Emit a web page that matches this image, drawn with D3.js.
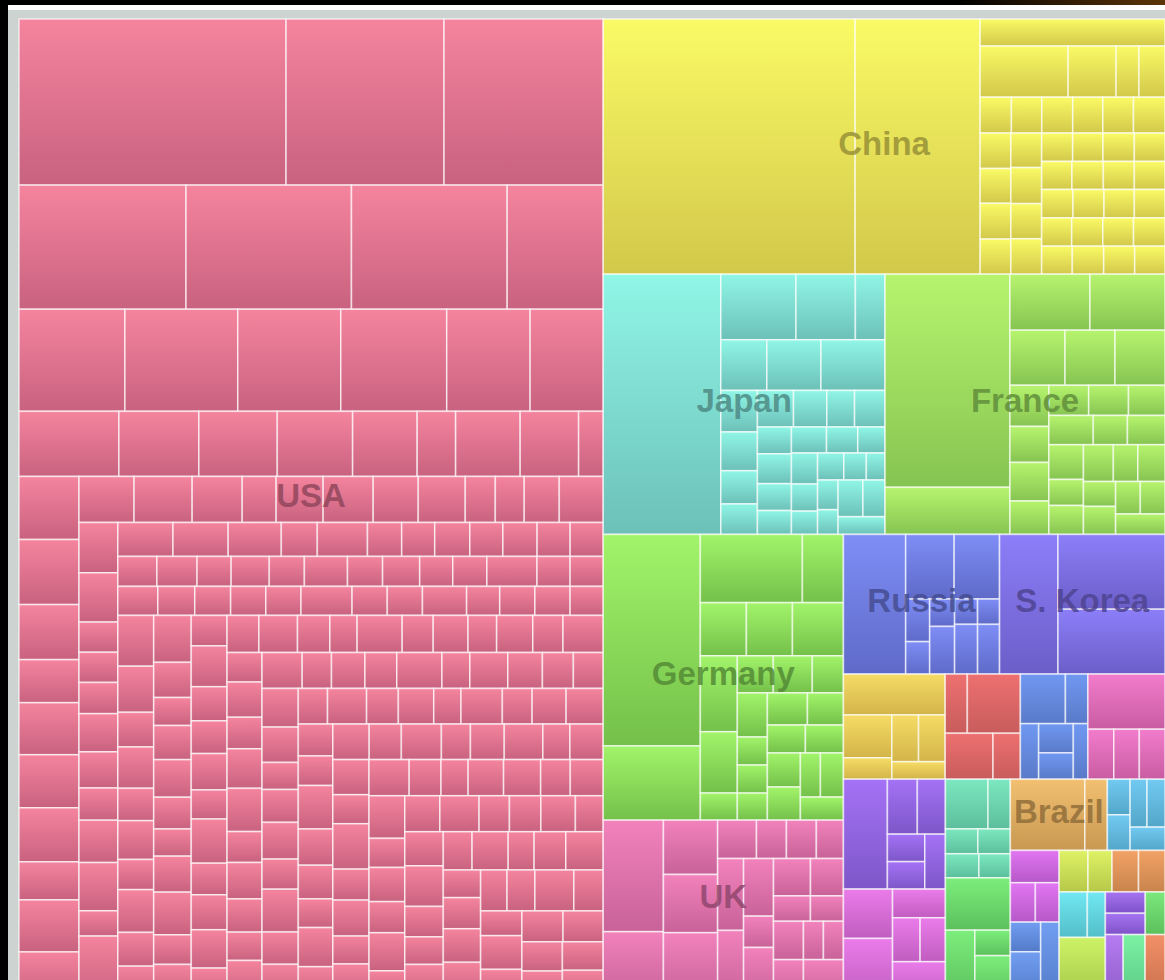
<!DOCTYPE html>
<html>
<head>
<meta charset="utf-8">
<script src="https://cdn.jsdelivr.net/npm/d3@7"></script>
<style>
  body { margin: 0; background: #000; overflow: hidden; }
  svg { display: block; }
  .country-label { font-family: "Liberation Sans", Arial, sans-serif; font-weight: bold; font-size: 33px; }
</style>
</head>
<body>
<svg id="chart" width="1165" height="980"></svg>
<script>
// country names (only the ones with a visible label are named)
var countries = ["USA", "China", "Japan", "France", "Germany", "UK", "Russia", "S. Korea",
  "", "", "", "", "", "", "", "", "Brazil", "", "", "", "", "", "", "", "", "", "", "", ""];

// country sizes, read as area in the picture (px^2 / 100)
var countryTotals = [5717, 1433, 733, 728, 686, 427, 218, 231,
  107, 79, 71, 81, 112, 111, 64, 78, 69, 41, 35, 37, 22, 22, 21, 28, 17, 8.4, 11.3, 13.9, 12.6];

// how the top level is cut into strips: [number of countries, direction]
var topStrips = [[1, "col"], [1, "row"], [2, "row"], [2, "col"], [2, "row"], [4, "row"], [2, "col"],
  [2, "col"], [2, "row"], [2, "col"], [2, "row"], [2, "col"], [2, "row"], [3, "row"]];

// cell gradient colours, top and bottom
var topColors = ["#f5849e", "#fafa66", "#90f6e6", "#b6f46e", "#a2f46a", "#f282bc", "#7e8ef6", "#8c7ef8",
  "#f6dc66", "#ee7070", "#7098f2", "#f27ccc", "#a472f6", "#ea7cea", "#7ce8c0", "#7cee7c", "#f2c070",
  "#72caf2", "#e276f2", "#729ef2", "#def266", "#f2a266", "#72e8f2", "#cef266", "#a674f2", "#7ce87c",
  "#b67cf2", "#7cf2a4", "#f29068"];
var bottomColors = ["#c8627f", "#d2c84a", "#6cc0b8", "#86c452", "#74c04a", "#c86298", "#5f6ac8", "#6c5ec8",
  "#d2b448", "#c85c5c", "#5a7ac8", "#c85ca2", "#7e56c8", "#c05cc0", "#5cbe9c", "#5cc05c", "#c89852",
  "#52a6c8", "#b658c8", "#527ac8", "#b6c848", "#c8844c", "#52bec8", "#a4c848", "#7e52c8", "#5cc05c",
  "#8e5cc8", "#5cc884", "#c8704c"];

// cells of each country (px^2 / 100), in the order they are laid out
var usaCells = [443, 262, 264, 207, 205, 193, 119,
  108, 115, 105, 108, 85, 74.5,
  65, 52, 51, 49, 42, 25, 42, 38, 16,
  37.8, 39, 33, 25.8, 31.2, 31.8, 32.4, 22.8, 31.2, 27.6,
  25.3, 26.7, 23, 15.6, 21.6, 23, 20.7, 21.6, 13.8, 13.3, 16.1, 20.2,
  19.5, 19.1, 11.7, 11.7, 12.1, 14.8, 14, 12.5, 16.4, 18.7, 9.8, 24,
  18.7, 18.7, 18, 12.2, 17, 11.6, 11.2, 11.9, 11.2, 11.6, 11.2, 11.2,
  11.7, 12, 10.2, 11.4, 10.5, 12.9, 10.5, 11.1, 9.9, 10.2, 15, 9.9, 9.9,
  11.6, 10.7, 10.4, 10.2, 10.2, 14.8, 10.2, 10.2, 12.8, 9.6, 10.2, 10.2, 9.6,
  18.2, 16.5, 12.4, 14.8, 11.6, 13.9, 10.8, 15.3, 12.1, 11.4,
  17.6, 13.2, 10.5, 12.8, 14.1, 11.9, 10.2, 13.5, 16.0, 11.1,
  12.6, 10.9, 14.6, 12.2, 11.7, 13.0, 10.4, 15.8, 11.3, 12.5,
  13.7, 10.7, 11.8, 14.3, 12.0, 10.1, 16.7, 11.5, 12.9, 10.6,
  13.4, 11.2, 14.9, 10.3, 12.3, 11.0, 13.8, 15.1, 10.8, 12.7,
  11.6, 9.9, 13.1, 14.4, 10.5, 12.0, 11.4, 16.2, 10.0, 13.6,
  12.4, 11.1, 10.7, 14.0, 12.8, 9.8, 11.9, 13.3, 10.9, 15.5,
  11.7, 12.2, 10.4, 13.9, 11.3, 12.6, 9.7, 14.7, 10.6, 12.1,
  13.2, 11.0, 10.2, 15.0, 12.5, 11.6, 9.9, 13.5, 10.8, 12.9,
  11.4, 14.2, 10.3, 12.0, 13.7, 9.6, 11.8, 12.7, 10.5, 16.4,
  11.2, 13.0, 10.1, 12.3, 14.5, 11.5, 9.8, 12.8, 13.4, 10.7,
  11.9, 15.2, 10.4, 12.2, 11.1, 13.6, 9.7, 12.6, 14.1, 10.9,
  11.3, 12.4, 10.0, 13.1, 15.6, 11.7, 10.6, 12.9, 11.0, 13.8,
  9.9, 12.1, 14.3, 10.3, 11.6, 12.5, 13.3, 10.8, 11.4, 15.9,
  12.0, 10.2, 13.9, 11.8, 12.7, 12.4, 11.8, 10.9, 11.6, 11.3];
var chinaCells = [643, 319, 50, 45, 24.5, 11.7, 13.3,
  11.2, 10.9, 11.1, 10.8, 11.0, 11.3,
  10.9, 10.7, 11.0, 10.8, 10.6, 11.1, 10.8, 10.9,
  8.8, 8.6, 8.9, 8.7, 8.5, 8.8, 8.7, 8.6, 8.9, 8.8, 8.6, 8.7, 8.5, 8.8, 8.7, 8.9, 8.6, 8.8, 8.7, 8.5];
var japanCells = [301.6, 48.6, 38.4, 19.2, 23, 27, 32, 15, 14, 12, 11, 13, 12, 10, 11, 9, 10, 9, 8, 9,
  8, 7, 8, 7, 6, 7, 6, 5, 6, 5, 9, 8, 8.2];
var franceCells = [266, 58.8, 44.8, 42, 30.3, 27.5, 27.5, 16, 14, 15, 13, 12, 12, 11, 13, 10, 11, 12,
  9, 10, 11, 9, 10, 8, 9, 8, 8, 10.1];
var germanyCells = [204.7, 71.8, 69.4, 27.9, 24.4, 24.4, 27, 28, 22.6, 10, 13.3, 14.4, 11.5,
  13.2, 8.4, 8.4, 8.1, 12.8, 11.5, 10.6, 10.6, 11.2, 10.9, 8.8, 10.1, 9.9];
var ukCells = [66.6, 39.6, 29.2, 31.3, 35.1, 14.8, 11.4, 11.4, 10.3, 18.5, 17.4, 17.1, 9.3, 15,
  13.7, 12.2, 9.3, 8.3, 11.4, 11.4, 7.6, 7.6, 15.2];
var russiaCells = [86, 31, 29, 10.1, 7.7, 6.75, 11.75, 5.75, 11.3, 5.5, 10.8];
var koreaCells = [80.6, 79, 68.5];
var smallCells = [
  [40, 20, 10, 12, 12, 9],
  [12.5, 30, 21, 12],
  [22, 11, 10, 10, 9, 8],
  [42, 12.8, 12.6, 12.7],
  [47, 16, 15, 10, 10, 11],
  [24, 29, 15, 12, 11, 19],
  [21, 11, 8, 8, 8, 7.5],
  [34, 20, 9, 15],
  [53, 16],
  [8, 8, 8, 8.5, 8],
  [16, 10, 9.5],
  [9, 14, 14],
  [12, 10],
  [11, 11],
  [12.5, 8],
  [28],
  [8.5, 8.5],
  [8.4],
  [11.3],
  [13.9],
  [12.6]
];
var cells = [usaCells, chinaCells, japanCells, franceCells, germanyCells, ukCells, russiaCells, koreaCells]
  .concat(smallCells);

// first strips inside each country as seen in the picture; the rest is squarified
var usaStrips = [[3, "row"], [4, "row"], [6, "row"], [9, "row"], [10, "col"], [12, "row"], [12, "col"],
  [12, "row"], [13, "row"], [13, "row"]];
var chinaStrips = [[1, "col"], [1, "col"], [1, "row"], [4, "row"], [6, "row"], [4, "col"], [4, "col"],
  [4, "row"], [4, "row"], [4, "row"], [4, "row"], [4, "row"]];
var japanStrips = [[1, "col"], [3, "row"], [3, "row"]];
var franceStrips = [[2, "col"], [2, "row"], [3, "row"]];
var germanyStrips = [[2, "col"], [2, "row"], [3, "row"], [3, "col"], [3, "row"], [4, "col"], [2, "row"],
  [2, "row"], [2, "col"], [2, "row"], [1, "row"]];
var ukStrips = [[2, "col"], [3, "col"], [4, "row"], [2, "col"], [3, "col"], [2, "row"], [2, "row"],
  [2, "col"], [2, "row"], [1, "row"]];
var russiaStrips = [[1, "col"], [2, "row"], [2, "col"], [2, "col"], [2, "col"], [2, "col"]];
var koreaStrips = [[1, "col"], [1, "row"], [1, "row"]];
var smallStrips = [
  [[1, "row"], [2, "col"], [2, "row"], [1, "row"]],
  [[2, "row"], [2, "row"]],
  [[2, "row"], [1, "col"], [2, "col"], [1, "col"]],
  [[1, "row"], [3, "row"]],
  [[1, "col"], [2, "row"], [2, "col"], [1, "col"]],
  [[2, "col"], [1, "row"], [2, "row"], [1, "row"]],
  [[2, "row"], [2, "row"], [2, "row"]],
  [[1, "row"], [1, "col"], [2, "col"]],
  [[2, "row"]],
  [[2, "col"], [2, "row"], [1, "row"]],
  [[1, "row"], [2, "row"]],
  [[2, "col"], [1, "col"]],
  [[2, "row"]],
  [[2, "row"]],
  [[2, "row"]],
  [],
  [[2, "col"]],
  [], [], [], []
];
var strips = [usaStrips, chinaStrips, japanStrips, franceStrips, germanyStrips, ukStrips, russiaStrips,
  koreaStrips].concat(smallStrips);

var width = 1146, height = 979;   // treemap runs past the bottom edge of the window
var viewW = 1146, viewH = 961;

var svg = d3.select("#chart");
var defs = svg.append("defs");

// page frame
var glow = defs.append("linearGradient").attr("id", "topglow");
glow.append("stop").attr("offset", "0.82").attr("stop-color", "#000");
glow.append("stop").attr("offset", "1").attr("stop-color", "#5c3508");
svg.append("rect").attr("width", 1165).attr("height", 5).attr("fill", "url(#topglow)");
svg.append("rect").attr("x", 8).attr("y", 5).attr("width", 1157).attr("height", 975).attr("fill", "#fff");
svg.append("rect").attr("x", 8).attr("y", 10).attr("width", 1157).attr("height", 970).attr("fill", "#cdd3d1");

countries.forEach(function(c, i) {
  var lg = defs.append("linearGradient").attr("id", "grad" + i)
    .attr("x1", 0).attr("y1", 0).attr("x2", 0).attr("y2", 1);
  lg.append("stop").attr("offset", "0").attr("stop-color", topColors[i]);
  lg.append("stop").attr("offset", "1").attr("stop-color", bottomColors[i]);
});

var data = {
  strips: topStrips,
  children: countries.map(function(name, i) {
    var s = d3.sum(cells[i]);
    return {
      name: name, idx: i, strips: strips[i],
      children: cells[i].map(function(v) { return {value: v * countryTotals[i] / s}; })
    };
  })
};

var root = d3.hierarchy(data).sum(function(d) { return d.value || 0; });

var squarify = d3.treemapSquarify.ratio(1);

// lay the listed strips first (dice = row, slice = column), squarify what is left
function stripTile(node, x0, y0, x1, y1) {
  var list = node.data.strips || [], nodes = node.children, value = node.value, i0 = 0;
  list.forEach(function(s) {
    var row = {children: nodes.slice(i0, i0 + s[0])};
    row.value = d3.sum(row.children, function(d) { return d.value; });
    var last = i0 + s[0] >= nodes.length;
    if (s[1] === "row") {
      var y = last ? y1 : y0 + (y1 - y0) * row.value / value;
      d3.treemapDice(row, x0, y0, x1, y);
      y0 = y;
    } else {
      var x = last ? x1 : x0 + (x1 - x0) * row.value / value;
      d3.treemapSlice(row, x0, y0, x, y1);
      x0 = x;
    }
    value -= row.value;
    i0 += s[0];
  });
  if (i0 < nodes.length) squarify({children: nodes.slice(i0), value: value}, x0, y0, x1, y1);
}

d3.treemap().size([width, height]).tile(stripTile)(root);

var g = svg.append("g").attr("transform", "translate(19,19)");

g.selectAll("rect.cell")
  .data(root.leaves())
  .join("rect")
  .attr("class", "cell")
  .attr("x", function(d) { return d.x0; })
  .attr("y", function(d) { return d.y0; })
  .attr("width", function(d) { return d.x1 - d.x0; })
  .attr("height", function(d) { return d.y1 - d.y0; })
  .attr("fill", function(d) { return "url(#grad" + d.parent.data.idx + ")"; })
  .attr("stroke", "#fff")
  .attr("stroke-opacity", 0.65)
  .attr("stroke-width", 1.6);

g.selectAll("text.country-label")
  .data(root.children.filter(function(d) { return d.data.name; }))
  .join("text")
  .attr("class", "country-label")
  .attr("x", function(d) { return (d.x0 + Math.min(d.x1, viewW)) / 2; })
  .attr("y", function(d) { return (d.y0 + Math.min(d.y1, viewH)) / 2; })
  .attr("dy", ".24em")
  .attr("text-anchor", "middle")
  .attr("fill", function(d) { return d3.color(bottomColors[d.data.idx]).darker(0.9); })
  .attr("fill-opacity", 0.85)
  .text(function(d) { return d.data.name; });
</script>
</body>
</html>
